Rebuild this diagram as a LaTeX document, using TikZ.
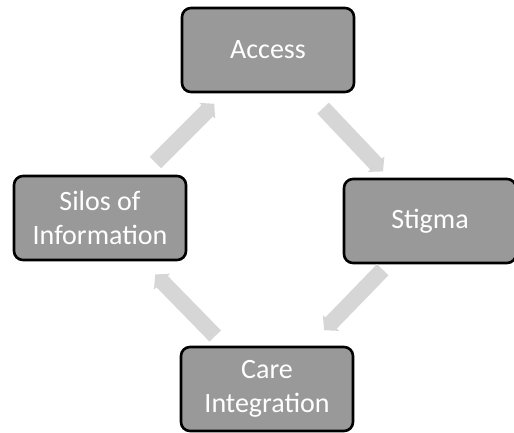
\documentclass[tikz,border=0pt]{standalone}
\usepackage{fontspec}
\setmainfont{Carlito}
\usetikzlibrary{calc,arrows.meta}

\begin{document}
\begin{tikzpicture}[x=1pt, y=-1pt,
    issuebox/.style={draw=black, line width=2.6pt, rounded corners=9pt,
      fill=black!40, text=white, minimum width=172pt, minimum height=84pt,
      align=center, font=\fontsize{28}{34}\selectfont},
    cyclearrow/.style={draw=black!16, line width=16pt,
      -{Triangle[width=22pt,length=10pt]}}]
      \useasboundingbox (0,0) rectangle (514,432);
      %
      \node[issuebox] (access) at (268,50)  {Access};          % top
      \node[issuebox] (stigma) at (430,221) {Stigma};          % right
      \node[issuebox] (care)   at (267,389) {Care\\Integration};  % bottom
      \node[issuebox] (silos)  at (100,218) {Silos of\\Information}; % left
      %
      \draw[cyclearrow] ($(silos)!0.33!(access)$) -- ($(silos)!0.68!(access)$);
      \draw[cyclearrow] ($(access)!0.34!(stigma)$) -- ($(access)!0.71!(stigma)$);
      \draw[cyclearrow] ($(stigma)!0.29!(care)$) -- ($(stigma)!0.65!(care)$);
      \draw[cyclearrow] ($(care)!0.31!(silos)$) -- ($(care)!0.67!(silos)$);
      %
    \end{tikzpicture}
\end{document}
